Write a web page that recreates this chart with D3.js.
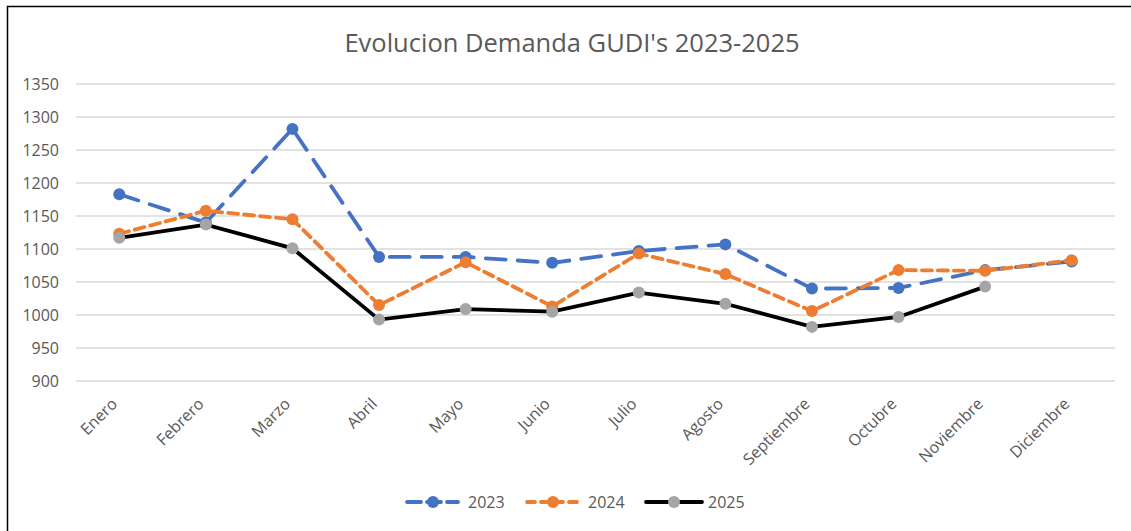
<!DOCTYPE html>
<html lang="es">
<head>
  <meta charset="UTF-8">
  <title>Evolucion Demanda GUDI's 2023-2025</title>
  <script src="https://d3js.org/d3.v7.min.js"></script>
  <style>
    body { margin: 0; background: #fff; }
    text { font-family: "Open Sans", "DejaVu Sans", sans-serif; fill: #595959; }
  </style>
</head>
<body>
  <svg width="1131" height="531"></svg>

  <script>
    // Data
    const months = ['Enero', 'Febrero', 'Marzo', 'Abril', 'Mayo', 'Junio', 'Julio',
                    'Agosto', 'Septiembre', 'Octubre', 'Noviembre', 'Diciembre'];
    const values2023 = [1183, 1140, 1282, 1088, 1088, 1079, 1097, 1107, 1040, 1041, 1068, 1081];
    const values2024 = [1123, 1158, 1145, 1015, 1080, 1013, 1093, 1062, 1006, 1068, 1067, 1083];
    const values2025 = [1117, 1137, 1101, 993, 1009, 1005, 1034, 1017, 982, 997, 1043, null];
    const yTicks = [900, 950, 1000, 1050, 1100, 1150, 1200, 1250, 1300, 1350];

    const series = [
      { name: '2023', values: values2023, stroke: '#4472c4', marker: '#4472c4', dash: '20,12' },
      { name: '2024', values: values2024, stroke: '#ed7d31', marker: '#ed7d31', dash: '10,6' },
      { name: '2025', values: values2025, stroke: '#000000', marker: '#a5a5a5', dash: null }
    ];

    const svg = d3.select('svg');

    // outer frame (only top and left edges visible)
    svg.append('rect')
      .attr('x', 7.5).attr('y', 6.5)
      .attr('width', 1200).attr('height', 600)
      .attr('fill', 'none')
      .attr('stroke', '#000')
      .attr('stroke-width', 1.5);

    const plotLeft = 76, plotRight = 1115, plotTop = 84, plotBottom = 381;

    const x = d3.scaleBand().domain(months).range([plotLeft, plotRight]);
    const y = d3.scaleLinear().domain([900, 1350]).range([plotBottom, plotTop]);

    // title
    svg.append('text')
      .attr('x', 572).attr('y', 52)
      .attr('text-anchor', 'middle')
      .style('font-size', '25.5px')
      .text("Evolucion Demanda GUDI's 2023-2025");

    // gridlines
    svg.append('g')
      .selectAll('line')
      .data(yTicks)
      .enter().append('line')
      .attr('x1', plotLeft).attr('x2', plotRight)
      .attr('y1', d => y(d)).attr('y2', d => y(d))
      .attr('stroke', '#d9d9d9')
      .attr('stroke-width', 1.3);

    // y axis labels
    const yAxis = svg.append('g')
      .attr('transform', `translate(${plotLeft - 17},0)`)
      .call(d3.axisLeft(y).tickValues(yTicks).tickFormat(d3.format('d')).tickSize(0).tickPadding(0));
    yAxis.select('.domain').remove();
    yAxis.selectAll('text')
      .style('font-size', '16px')
      .attr('fill', '#595959')
      .attr('dy', '0.35em');

    // x axis labels, rotated
    const xAxis = svg.append('g')
      .attr('transform', `translate(0,${plotBottom})`)
      .call(d3.axisBottom(x).tickSize(0).tickPadding(0));
    xAxis.select('.domain').remove();
    xAxis.selectAll('text')
      .style('font-size', '16px')
      .attr('fill', '#595959')
      .attr('text-anchor', 'end')
      .attr('transform', 'translate(-5,20) rotate(-45)')
      .attr('dy', '0.35em');

    const cx = i => x(months[i]) + x.bandwidth() / 2;

    const line = d3.line()
      .defined(d => d != null)
      .x((d, i) => cx(i))
      .y(d => y(d));

    series.forEach(s => {
      svg.append('path')
        .datum(s.values)
        .attr('fill', 'none')
        .attr('stroke', s.stroke)
        .attr('stroke-width', 3.8)
        .attr('stroke-linecap', 'round')
        .attr('stroke-dasharray', s.dash)
        .attr('d', line);

      svg.append('g')
        .selectAll('circle')
        .data(s.values.map((v, i) => ({ v, i })).filter(d => d.v != null))
        .enter().append('circle')
        .attr('cx', d => cx(d.i))
        .attr('cy', d => y(d.v))
        .attr('r', 6)
        .attr('fill', s.marker);
    });

    // legend
    const legendX = [407, 527, 646];
    const legend = svg.append('g');
    series.forEach((s, i) => {
      const g = legend.append('g').attr('transform', `translate(${legendX[i]},502)`);
      g.append('line')
        .attr('x1', 0).attr('x2', i === 2 ? 56 : 51)
        .attr('y1', 0).attr('y2', 0)
        .attr('stroke', s.stroke)
        .attr('stroke-width', 3.8)
        .attr('stroke-linecap', 'round')
        .attr('stroke-dasharray', i === 0 ? '14,6' : (i === 1 ? '8,6' : null));
      g.append('circle')
        .attr('cx', i === 2 ? 28 : 26).attr('cy', 0).attr('r', 6)
        .attr('fill', s.marker);
      g.append('text')
        .attr('x', i === 2 ? 62 : 61).attr('y', 0)
        .attr('dy', '0.35em')
        .style('font-size', '16px')
        .text(s.name);
    });
  </script>
</body>
</html>
